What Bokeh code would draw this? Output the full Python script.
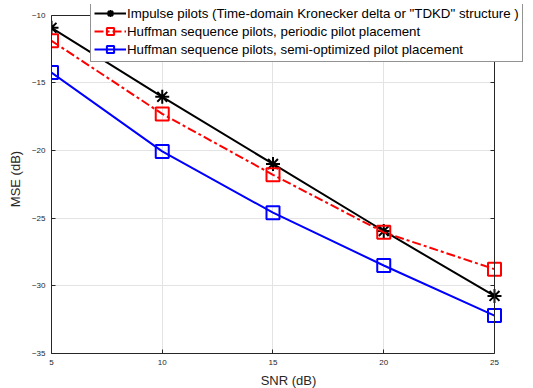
from bokeh.plotting import figure
from bokeh.models import Range1d, FixedTicker, LinearAxis
from bokeh.embed import file_html
from bokeh.resources import INLINE

snr = [5, 10, 15, 20, 25]
impulse = [-10.94, -16.04, -21.0, -25.95, -30.75]
periodic = [-11.9, -17.3, -21.8, -26.05, -28.77]
semi = [-14.25, -20.07, -24.6, -28.5, -32.2]
x_ticks = [5, 10, 15, 20, 25]
y_ticks = [-35, -30, -25, -20, -15, -10]
x_lim = (5, 25)
y_lim = (-35, -10)

lab_imp = 'Impulse pilots (Time-domain Kronecker delta or "TDKD" structure )'
lab_per = 'Huffman sequence pilots, periodic pilot placement'
lab_semi = 'Huffman sequence pilots, semi-optimized pilot placement'

FONT = "Liberation Sans"
AX = "#262626"

# frame is a bit larger than the axes box so the legend can overhang it
p = figure(output_backend="svg", toolbar_location=None,
           frame_width=474, frame_height=349,
           min_border_left=51, min_border_right=8,
           min_border_top=4, min_border_bottom=34,
           x_range=Range1d(5, 26.40), y_range=Range1d(-35, -9.22))
p.background_fill_color = "white"
p.border_fill_color = "white"
p.outline_line_color = None

bottom_ax = p.below[0]
left_ax = p.left[0]
top_ax = LinearAxis(fixed_location=y_lim[1])
right_ax = LinearAxis(fixed_location=x_lim[1])
p.add_layout(top_ax, "above")
p.add_layout(right_ax, "right")

for ax in (bottom_ax, left_ax, top_ax, right_ax):
    ax.axis_line_color = AX
    ax.axis_line_width = 1
    ax.major_tick_line_color = AX
    ax.major_tick_in = 4
    ax.major_tick_out = 0
    ax.minor_tick_line_color = None
    ax.major_label_text_font = FONT
    ax.major_label_text_font_size = "8px"
    ax.major_label_text_color = AX
    ax.axis_label_text_font = FONT
    ax.axis_label_text_font_size = "13px"
    ax.axis_label_text_font_style = "normal"
    ax.axis_label_text_color = AX

for ax in (bottom_ax, top_ax):
    ax.ticker = FixedTicker(ticks=x_ticks)
    ax.bounds = x_lim
for ax in (left_ax, right_ax):
    ax.ticker = FixedTicker(ticks=y_ticks)
    ax.bounds = y_lim
# mirrored box axes: ticks only, no labels
for ax in (top_ax, right_ax):
    ax.major_label_text_font_size = "1px"
    ax.major_label_text_color = None
    ax.major_label_standoff = 0

bottom_ax.axis_label = "SNR (dB)"
left_ax.axis_label = "MSE (dB)"
bottom_ax.major_label_standoff = 6
bottom_ax.axis_label_standoff = 5
left_ax.major_label_standoff = 6
left_ax.axis_label_standoff = 6

p.xgrid.grid_line_color = "#e3e3e3"
p.ygrid.grid_line_color = "#e3e3e3"
p.xgrid.cross_bounds = y_lim
p.ygrid.cross_bounds = x_lim

p.line(snr, impulse, line_color="black", line_width=2, legend_label=lab_imp)
p.scatter(snr, impulse, marker="asterisk", size=14, line_color="black",
          line_width=2, legend_label=lab_imp)

p.line(snr, periodic, line_color="#ff0000", line_width=2, line_dash="9 3 3 3",
       legend_label=lab_per)
p.scatter(snr, periodic, marker="square", size=13, line_color="#ff0000",
          fill_color=None, line_width=2, legend_label=lab_per)

p.line(snr, semi, line_color="#0000ff", line_width=2, legend_label=lab_semi)
p.scatter(snr, semi, marker="square", size=13, line_color="#0000ff",
          fill_color=None, line_width=2, legend_label=lab_semi)

lg = p.legend[0]
lg.location = (39, 349 - 58)
lg.label_text_font = FONT
lg.label_text_font_size = "13.3px"
lg.label_text_color = "black"
lg.label_height = 18
lg.glyph_height = 18
lg.glyph_width = 32
lg.label_standoff = 1
lg.spacing = 0
lg.padding = 3
lg.margin = 0
lg.border_line_color = AX
lg.border_line_width = 1
lg.background_fill_color = "white"
lg.background_fill_alpha = 1

open("out.html", "w").write(file_html(p, INLINE))
